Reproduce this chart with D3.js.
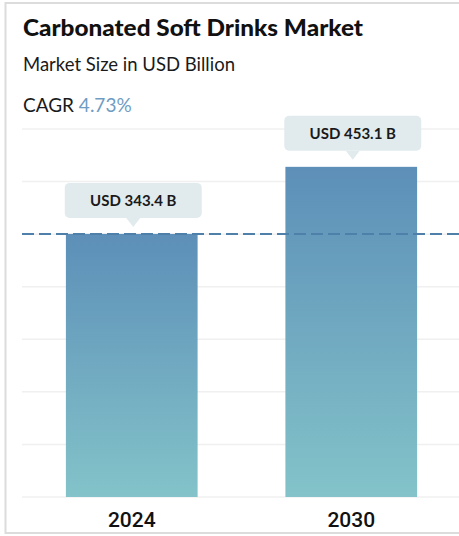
<!DOCTYPE html>
<html>
<head>
<meta charset="utf-8">
<script src="https://cdn.jsdelivr.net/npm/d3@7"></script>
<style>
  html, body { margin: 0; padding: 0; background: #fff; }
  svg { display: block; }
</style>
</head>
<body>
<div id="chart"></div>
<script>
// Market size values (USD billion)
const years = ["2024", "2030"];
const values = [343.4, 453.1];
const valueLabels = ["USD 343.4 B", "USD 453.1 B"];
const title = "Carbonated Soft Drinks Market";
const subtitle = "Market Size in USD Billion";
const cagrLabel = "CAGR";
const cagrValue = "4.73%";

const W = 459, H = 536;
const plotLeft = 22, plotRight = 461, plotTop = 129, plotBottom = 497;

const svg = d3.select("#chart").append("svg")
  .attr("width", W).attr("height", H);

const defs = svg.append("defs");
const grad = defs.append("linearGradient")
  .attr("id", "barGrad").attr("x1", 0).attr("y1", 0).attr("x2", 0).attr("y2", 1);
grad.append("stop").attr("offset", "0%").attr("stop-color", "#5d8fb8");
grad.append("stop").attr("offset", "100%").attr("stop-color", "#83c3c9");

// card frame
svg.append("rect")
  .attr("x", 5.5).attr("y", 3).attr("width", 470).attr("height", 530)
  .attr("fill", "#fff").attr("stroke", "#dcdcdc").attr("stroke-width", 2);

// headings
svg.append("text").attr("x", 23).attr("y", 36)
  .attr("font-family", "Lato").attr("font-weight", 900).attr("font-size", 22)
  .attr("textLength", 340).attr("lengthAdjust", "spacingAndGlyphs")
  .attr("fill", "#111").text(title);
svg.append("text").attr("x", 23).attr("y", 71)
  .attr("font-family", "Lato").attr("font-size", 18.5)
  .attr("fill", "#1a1a1a").text(subtitle);
const cagr = svg.append("text").attr("x", 23).attr("y", 112)
  .attr("font-family", "Lato").attr("font-size", 19).attr("fill", "#1a1a1a");
cagr.append("tspan").text(cagrLabel + " ");
cagr.append("tspan").attr("fill", "#6f9cc3").text(cagrValue);

// scales
const x = d3.scaleBand().domain(years).range([plotLeft, plotRight])
  .paddingInner(0.4).paddingOuter(0.2);
const y = d3.scaleLinear().domain([-87, 515]).range([plotBottom, plotTop]);

// horizontal grid
const gridIdx = d3.scaleLinear().domain([0, 7]).range([plotBottom, plotTop]);
svg.append("g").selectAll("line").data(d3.range(8)).join("line")
  .attr("x1", plotLeft).attr("x2", W)
  .attr("y1", d => gridIdx(d)).attr("y2", d => gridIdx(d))
  .attr("stroke", "#f0f0f0").attr("stroke-width", 1.5);

const data = years.map((yr, i) => ({ year: yr, value: values[i], label: valueLabels[i] }));

// bars
svg.append("g").selectAll("rect").data(data).join("rect")
  .attr("x", d => x(d.year))
  .attr("width", x.bandwidth())
  .attr("y", d => y(d.value))
  .attr("height", d => plotBottom - y(d.value))
  .attr("fill", "url(#barGrad)");

// reference line at the first year's value
svg.append("line")
  .attr("x1", plotLeft).attr("x2", W)
  .attr("y1", y(values[0])).attr("y2", y(values[0]))
  .attr("stroke", "#4f80aa").attr("stroke-width", 2)
  .attr("stroke-dasharray", "12,5");

// value callouts
const boxW = 137, boxH = 35, gap = 16, tri = 7;
const callouts = svg.append("g").selectAll("g").data(data).join("g")
  .attr("transform", d => `translate(${x(d.year) + x.bandwidth() / 2 + 1.5},${y(d.value) - gap})`);
callouts.append("rect")
  .attr("x", -boxW / 2).attr("y", -boxH).attr("width", boxW).attr("height", boxH)
  .attr("rx", 5).attr("fill", "#e1ebee");
callouts.append("path")
  .attr("d", `M${-tri},0 L0,${tri + 2} L${tri},0 Z`)
  .attr("fill", "#e1ebee");
callouts.append("text")
  .attr("x", 0).attr("y", -boxH / 2 + 5.5)
  .attr("text-anchor", "middle")
  .attr("font-family", "Lato").attr("font-weight", 700).attr("font-size", 15)
  .attr("fill", "#1a1a1a").text(d => d.label);

// year labels
svg.append("g").selectAll("text").data(data).join("text")
  .attr("x", d => x(d.year) + x.bandwidth() / 2)
  .attr("y", 527)
  .attr("text-anchor", "middle")
  .attr("font-family", "Roboto").attr("font-weight", 500).attr("font-size", 21)
  .attr("fill", "#111").text(d => d.year);
</script>
</body>
</html>
